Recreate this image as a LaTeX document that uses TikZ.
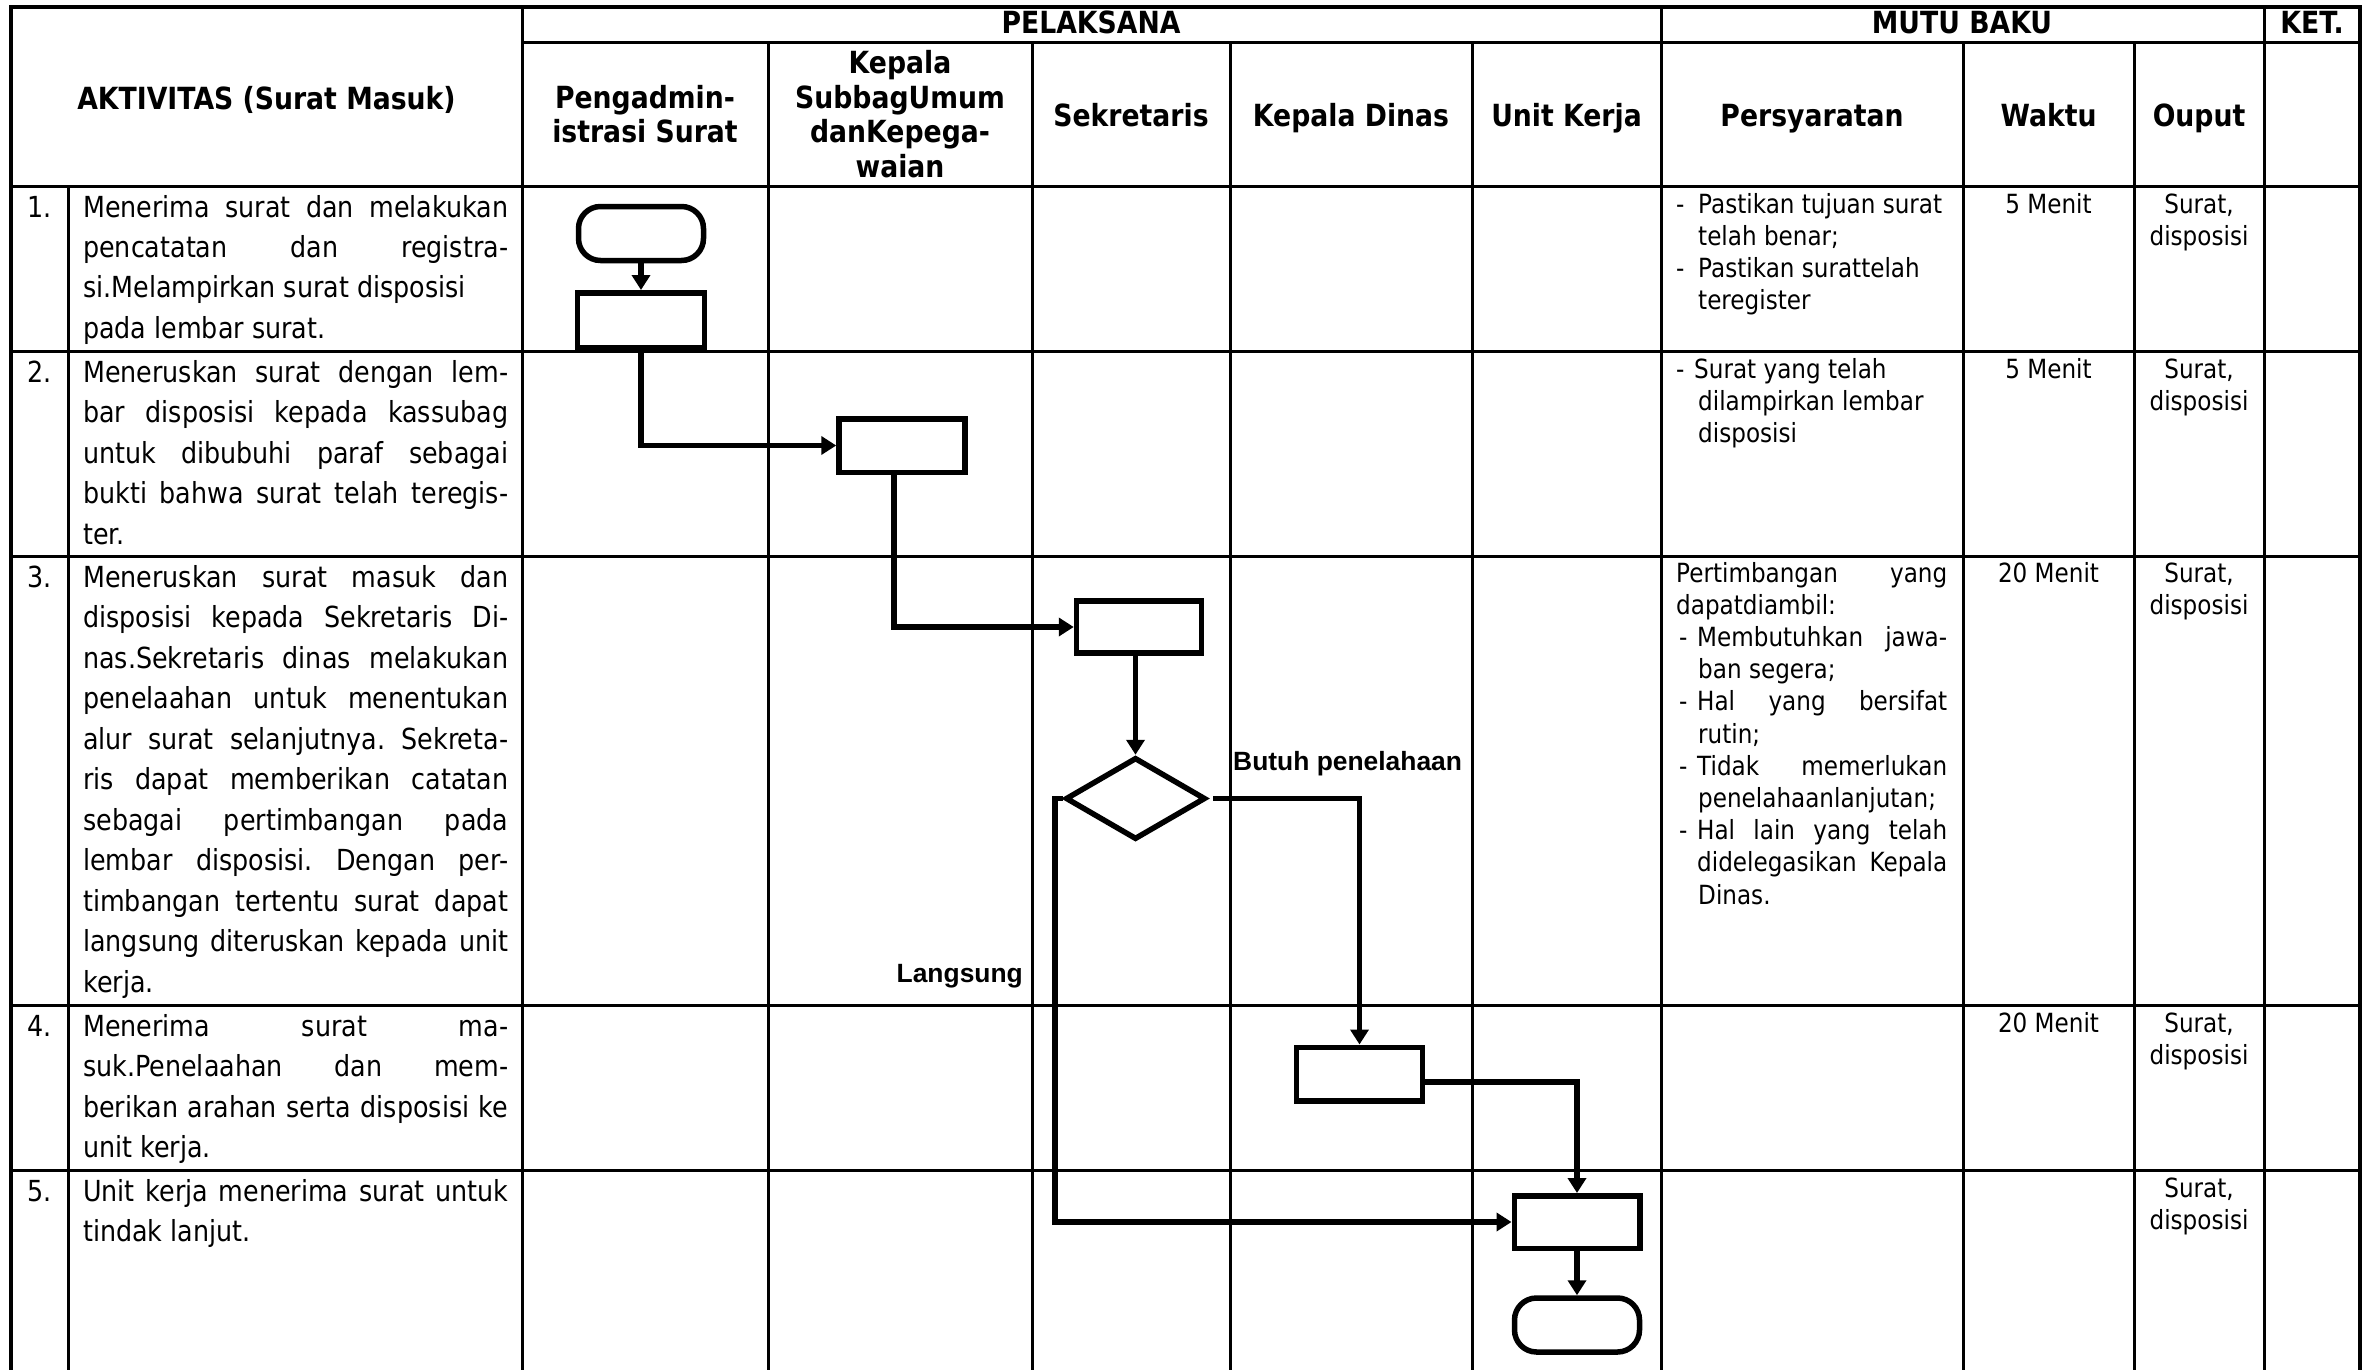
\documentclass[tikz,border=0pt]{standalone}
\usepackage{fontspec}
\setmainfont{DejaVu Sans}[FakeStretch=0.875]
\newfontfamily\labfont{Liberation Sans}
\usetikzlibrary{shapes.geometric,arrows.meta}
\frenchspacing

\newcommand\bodyf{\fontsize{29}{40.5}\selectfont}
\newcommand\smallf{\fontsize{26.4}{32.2}\selectfont}
\newcommand\headf{\fontsize{30.5}{34.5}\selectfont\bfseries}
% justified / ragged lines
\newcommand\lnj[1]{\hbox to\hsize{#1}}
\newcommand\lnr[1]{\hbox to\hsize{#1\hfil}}
% dash items (Persyaratan)
\newcommand\pdr[1]{\hbox to\hsize{\hbox to 22pt{-\hfil}#1\hfil}}
\newcommand\pdj[1]{\hbox to\hsize{\hbox to 21pt{\hskip3pt-\hfil}#1}}
\newcommand\pir[1]{\hbox to\hsize{\hskip22pt #1\hfil}}
\newcommand\pij[1]{\hbox to\hsize{\hskip21pt #1}}

\begin{document}
\begin{tikzpicture}[x=1pt,y=-1pt,
  grid/.style={line width=3pt, line cap=rect},
  gridout/.style={line width=4pt, line cap=rect},
  proc/.style={draw, line width=5.5pt, rectangle, minimum width=126pt, minimum height=53.5pt, inner sep=0pt},
  term/.style={proc, rounded corners=22pt, minimum height=54pt, minimum width=125pt},
  dec/.style={draw, line width=5.5pt, diamond, minimum width=140pt, minimum height=82pt, inner sep=0pt},
  flow/.style={line width=5.5pt, -{Triangle[width=18pt,length=15pt]}},
  body/.style={anchor=base west, inner sep=0pt},
  num/.style={anchor=base, inner sep=0pt, font=\bodyf},
  sm/.style={anchor=base, inner sep=0pt, font=\smallf},
  hd/.style={anchor=base, inner sep=0pt, font=\headf},
  hdm/.style={anchor=center, inner sep=0pt, align=center, font=\headf},
  lab/.style={inner sep=0pt, font=\labfont\bfseries\fontsize{26.4}{30}\selectfont}
]
\useasboundingbox (0,0) rectangle (2367,1370);
\fill[white] (0,0) rectangle (2367,1370);

% ---------- table grid ----------
\draw[gridout] (11,7) -- (2360,7);
\draw[grid] (522,43) -- (2360,43);
\foreach \yy in {186,351,556,1005,1170} \draw[grid] (11,\yy) -- (2360,\yy);
\foreach \xx in {11,2360} \draw[gridout] (\xx,7) -- (\xx,1372);
\foreach \xx in {522,1661,2264} \draw[grid] (\xx,7) -- (\xx,1372);
\draw[grid] (68,186) -- (68,1372);
\foreach \xx in {768,1032,1230,1472,1963,2134} \draw[grid] (\xx,43) -- (\xx,1372);

% ---------- headers ----------
\node[hd] (hAkt) at (266.5,110) {AKTIVITAS (Surat Masuk)};
\node[hd] (hPel) at (1091,34) {PELAKSANA};
\node[hd] (hMutu) at (1962,34) {MUTU BAKU};
\node[hd] (hKet) at (2312,34) {KET.};
\node[hdm] (hPeng) at (645,114) {Pengadmin-\\istrasi Surat};
\node[hdm] (hKasub) at (900,114) {Kepala\\SubbagUmum\\danKepega-\\waian};
\node[hd] (hSek) at (1131,126.5) {Sekretaris};
\node[hd] (hKadis) at (1351,126.5) {Kepala Dinas};
\node[hd] (hUnit) at (1566.5,126.5) {Unit Kerja};
\node[hd] (hPers) at (1812,126.5) {Persyaratan};
\node[hd] (hWaktu) at (2048.5,126.5) {Waktu};
\node[hd] (hOut) at (2199,126.5) {Ouput};

% ---------- numbers ----------
\node[num] (n1) at (39.5,217) {1.};
\node[num] (n2) at (39.5,382) {2.};
\node[num] (n3) at (39.5,587) {3.};
\node[num] (n4) at (39.5,1036) {4.};
\node[num] (n5) at (39.5,1201) {5.};

% ---------- activities ----------
\node[body] (a1) at (83,217) {\parbox[t]{425pt}{\bodyf
\lnj{Menerima surat dan melakukan}
\lnj{pencatatan dan registra-}
\lnr{si.Melampirkan surat disposisi}
\lnr{pada lembar surat.}}};
\node[body] (a2) at (83,382) {\parbox[t]{425pt}{\bodyf
\lnj{Meneruskan surat dengan lem-}
\lnj{bar disposisi kepada kassubag}
\lnj{untuk dibubuhi paraf sebagai}
\lnj{bukti bahwa surat telah teregis-}
\lnr{ter.}}};
\node[body] (a3) at (83,587) {\parbox[t]{425pt}{\bodyf
\lnj{Meneruskan surat masuk dan}
\lnj{disposisi kepada Sekretaris Di-}
\lnj{nas.Sekretaris dinas melakukan}
\lnj{penelaahan untuk menentukan}
\lnj{alur surat selanjutnya. Sekreta-}
\lnj{ris dapat memberikan catatan}
\lnj{sebagai pertimbangan pada}
\lnj{lembar disposisi. Dengan per-}
\lnj{timbangan tertentu surat dapat}
\lnj{langsung diteruskan kepada unit}
\lnr{kerja.}}};
\node[body] (a4) at (83,1036) {\parbox[t]{425pt}{\bodyf
\lnj{Menerima surat ma-}
\lnj{suk.Penelaahan dan mem-}
\lnj{berikan arahan serta disposisi ke}
\lnr{unit kerja.}}};
\node[body] (a5) at (83,1201) {\parbox[t]{425pt}{\bodyf
\lnj{Unit kerja menerima surat untuk}
\lnr{tindak lanjut.}}};

% ---------- persyaratan ----------
\node[body] (p1) at (1676,213) {\parbox[t]{271pt}{\smallf
\pdr{Pastikan tujuan surat}
\pir{telah benar;}
\pdr{Pastikan surattelah}
\pir{teregister}}};
\node[body] (p2) at (1676,378) {\parbox[t]{271pt}{\smallf
\hbox to\hsize{\hbox to 18pt{-\hfil}Surat yang telah\hfil}
\pir{dilampirkan lembar}
\pir{disposisi}}};
\node[body] (p3) at (1676,582) {\parbox[t]{271pt}{\smallf
\lnj{Pertimbangan yang}
\lnr{dapatdiambil:}
\pdj{Membutuhkan jawa-}
\pir{ban segera;}
\pdj{Hal yang bersifat}
\pir{rutin;}
\pdj{Tidak memerlukan}
\pir{penelahaanlanjutan;}
\pdj{Hal lain yang telah}
\pij{didelegasikan Kepala}
\pir{Dinas.}}};

% ---------- waktu ----------
\node[sm] (w1) at (2048.5,213) {5 Menit};
\node[sm] (w2) at (2048.5,378) {5 Menit};
\node[sm] (w3) at (2048.5,582) {20 Menit};
\node[sm] (w4) at (2048.5,1032) {20 Menit};

% ---------- ouput ----------
\foreach \yy/\nm in {213/o1,378/o2,582/o3,1032/o4,1197/o5}
  \node[sm] (\nm) at (2199,\yy) {\parbox[t]{125pt}{\centering\smallf Surat,\\disposisi}};

% ---------- flowchart ----------
\node[term] (t1) at (641,233.5) {};
\node[proc, minimum width=127pt, minimum height=54.5pt] (r1) at (641,320) {};
\node[proc] (r2) at (902,445.5) {};
\node[proc, minimum width=125pt, minimum height=52pt] (r3) at (1139,627) {};
\node[dec] (d1) at (1135.5,798.5) {};
\node[proc] (r4) at (1359.5,1074) {};
\node[proc, minimum width=125.5pt, minimum height=52.5pt] (r5) at (1577,1222) {};
\node[term] (t2) at (1577,1325) {};

\draw[flow] (t1.south) -- (r1.north);
\draw[flow] (r1.south) |- (r2.west);
\draw[flow] ([xshift=-8pt]r2.south) |- (r3.west);
\draw[flow] (d1.north |- r3.south) -- (d1.north);
\draw[flow] ([xshift=5pt]d1.east) -| (r4.north);
\draw[flow] (d1.west) -- ++(-8pt,0) |- (r5.west);
\draw[flow] ([yshift=-8pt]r4.east) -| (r5.north);
\draw[flow] (r5.south) -- (t2.north);

\node[lab, anchor=base west] (lb1) at (1233,770) {Butuh penelahaan};
\node[lab, anchor=base east] (lb2) at (1023,982) {Langsung};
\end{tikzpicture}
\end{document}
